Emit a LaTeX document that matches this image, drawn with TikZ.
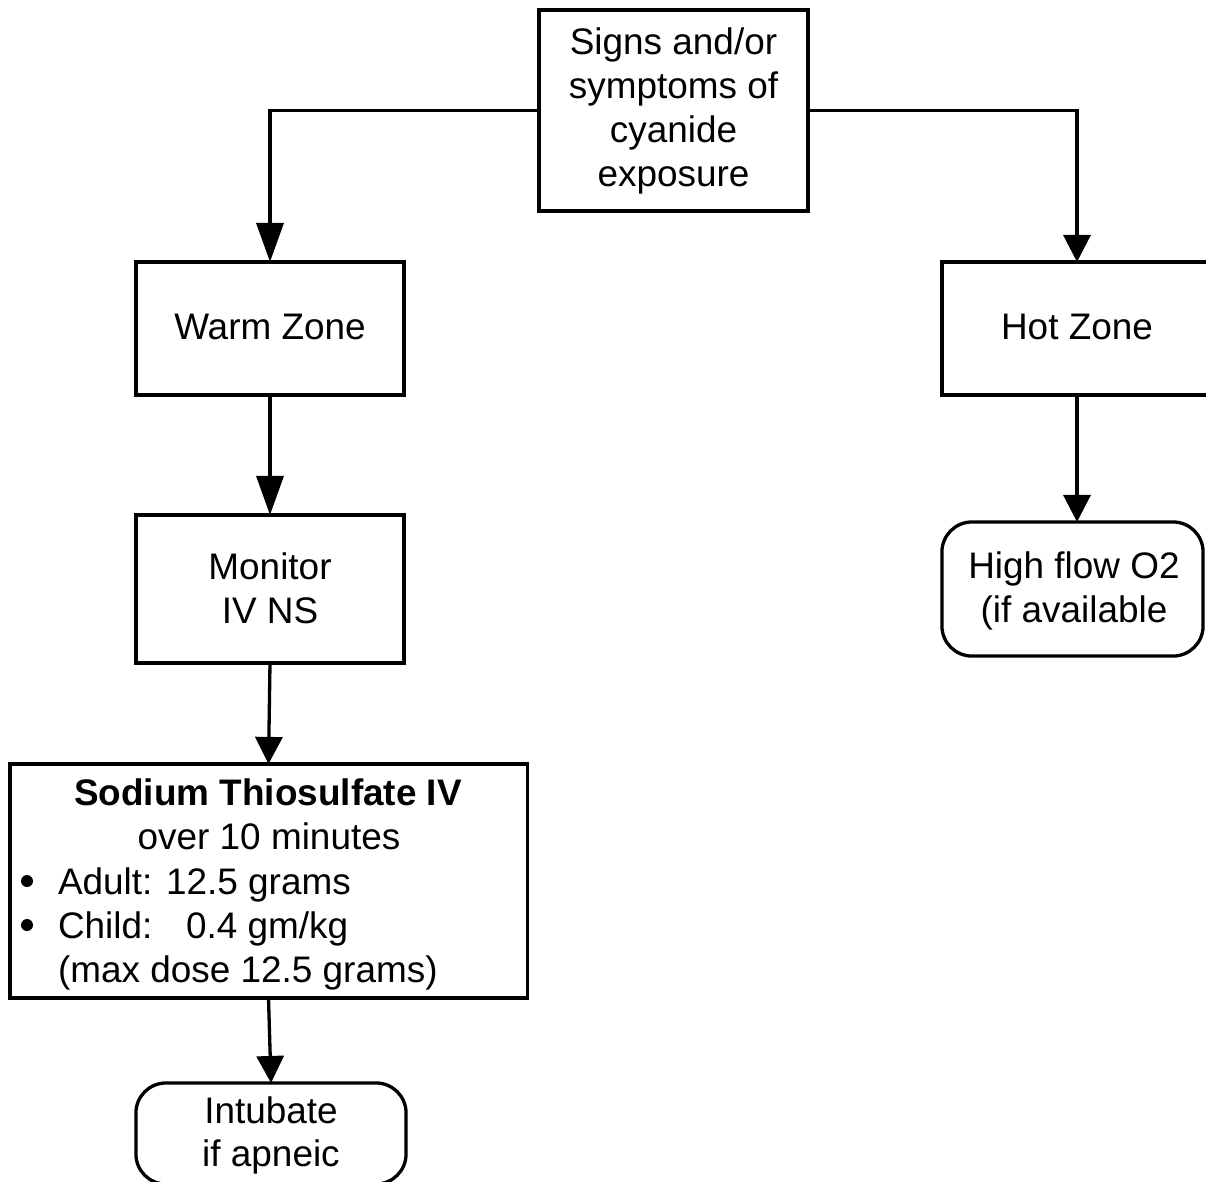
\documentclass[tikz,border=0pt]{standalone}
\usepackage{fontspec}
\setmainfont{Liberation Sans}
\usetikzlibrary{arrows.meta}
\begin{document}
\begin{tikzpicture}[x=0.01cm,y=-0.01cm,
  box/.style={draw, line width=0.033cm, rectangle, inner sep=0pt, outer sep=0pt},
  rbox/.style={box, rounded corners=0.3cm},
  txt/.style={inner sep=0pt, outer sep=0pt, anchor=base, font=\fontsize{10.5pt}{12.5pt}\selectfont},
  ltxt/.style={txt, anchor=base west},
  conn/.style={line width=0.033cm, -{Triangle[width=0.27cm,length=0.27cm]}},
  tallconn/.style={line width=0.033cm, -{Triangle[width=0.27cm,length=0.39cm]}},
  dot/.style={circle, fill=black, inner sep=0pt, minimum size=0.12cm}]
\path[use as bounding box] (0,0) rectangle (1206,1182);
\clip (0,0) rectangle (1206,1182);
% boxes
\node[box, minimum width=2.69cm, minimum height=2.01cm] (top) at (673.5,110.5) {};
\node[box, minimum width=2.68cm, minimum height=1.33cm] (warm) at (270,328.5) {};
\node[box, minimum width=2.70cm, minimum height=1.33cm] (hot) at (1077,328.5) {};
\node[box, minimum width=2.68cm, minimum height=1.48cm] (mon) at (270,589) {};
\node[box, minimum width=5.17cm, minimum height=2.34cm] (sod) at (268.5,881) {};
\node[rbox, minimum width=2.70cm, minimum height=1.01cm] (intub) at (271,1133.5) {};
\node[rbox, minimum width=2.61cm, minimum height=1.34cm] (hf) at (1072.5,589) {};
% texts
\node[txt] (t1) at (673.5,55) {Signs and/or};
\node[txt] (t2) at (673.5,99) {symptoms of};
\node[txt] (t3) at (673.5,143) {cyanide};
\node[txt] (t4) at (673.5,187) {exposure};
\node[txt] (tw) at (270,340) {Warm Zone};
\node[txt] (th) at (1077,340) {Hot Zone};
\node[txt] (tm1) at (270,579) {Monitor};
\node[txt] (tm2) at (270,623) {IV NS};
\node[txt] (thf1) at (1074,578) {High flow O2};
\node[txt] (thf2) at (1074,622) {(if available};
\node[txt, font=\fontsize{10.5pt}{12.5pt}\selectfont\bfseries] (ts1) at (268,805) {Sodium Thiosulfate IV};
\node[txt] (ts2) at (269,849) {over 10 minutes};
\node[dot] (b1) at (27,881) {};
\node[ltxt] (ts3) at (58,894) {Adult: 12.5 grams};
\node[dot] (b2) at (27,925) {};
\node[ltxt] (ts4) at (58,938) {Child:};
\node[ltxt] (ts5) at (186,938) {0.4 gm/kg};
\node[ltxt] (ts6) at (58,982) {(max dose 12.5 grams)};
\node[txt] (ti1) at (271,1123) {Intubate};
\node[txt] (ti2) at (271,1166) {if apneic};
% connectors
\draw[tallconn] (top.west) -| (warm.north);
\draw[conn] (top.east) -| (hot.north);
\draw[tallconn] (warm.south) -- (mon.north);
\draw[conn] (mon.south) -- (sod.north);
\draw[conn] (sod.south) -- (intub.north);
\draw[conn] (hot.south) -- (hot.south |- hf.north);
\end{tikzpicture}
\end{document}
